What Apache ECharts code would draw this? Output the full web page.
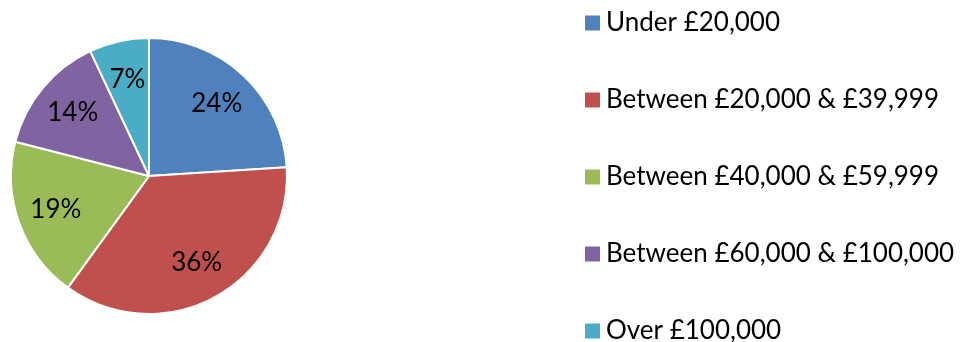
<!DOCTYPE html>
<html>
<head>
<meta charset="utf-8">
<script src="https://cdn.jsdelivr.net/npm/echarts@6/dist/echarts.min.js"></script>
<style>
  html, body { margin: 0; padding: 0; background: #fff; }
  #chart { width: 976px; height: 342px; }
</style>
</head>
<body>
<div id="chart"></div>
<script>
const categories = [
  'Under £20,000',
  'Between £20,000 & £39,999',
  'Between £40,000 & £59,999',
  'Between £60,000 & £100,000',
  'Over £100,000'
]
const shares = [24, 36, 19, 14, 7]
const colors = ['#4F81BD', '#C0504D', '#9BBB59', '#8064A2', '#4BACC6']

const font = 'Lato, "Open Sans", sans-serif'
const pieData = categories.map((name, i) => ({ name, value: shares[i] }))

const chart = echarts.init(document.getElementById('chart'), null, { renderer: 'canvas' })
chart.setOption({
  animation: false,
  color: colors,
  legend: {
    orient: 'vertical',
    left: 583,
    top: 10,
    height: 500,
    padding: 0,
    itemWidth: 17,
    itemHeight: 17,
    itemGap: 51,
    itemTextGap: 6,
    icon: 'rect',
    data: categories,
    textStyle: { fontFamily: font, fontSize: 26, color: '#000' }
  },
  series: [
    {
      type: 'pie',
      center: [149, 176],
      radius: [0, 138],
      startAngle: 90,
      clockwise: true,
      data: pieData,
      itemStyle: { borderColor: '#fff', borderWidth: 2 },
      label: { show: false },
      labelLine: { show: false },
      emphasis: { disabled: true }
    },
    {
      // invisible ring only used to place the percent labels further out
      type: 'pie',
      center: [149, 176],
      radius: [0, 192],
      startAngle: 90,
      clockwise: true,
      silent: true,
      data: pieData,
      itemStyle: { color: 'rgba(0,0,0,0)', borderWidth: 0 },
      label: {
        show: true,
        position: 'inside',
        formatter: '{c}%',
        fontFamily: font,
        fontSize: 26,
        color: '#000'
      },
      labelLine: { show: false },
      emphasis: { disabled: true }
    }
  ]
})
</script>
</body>
</html>
